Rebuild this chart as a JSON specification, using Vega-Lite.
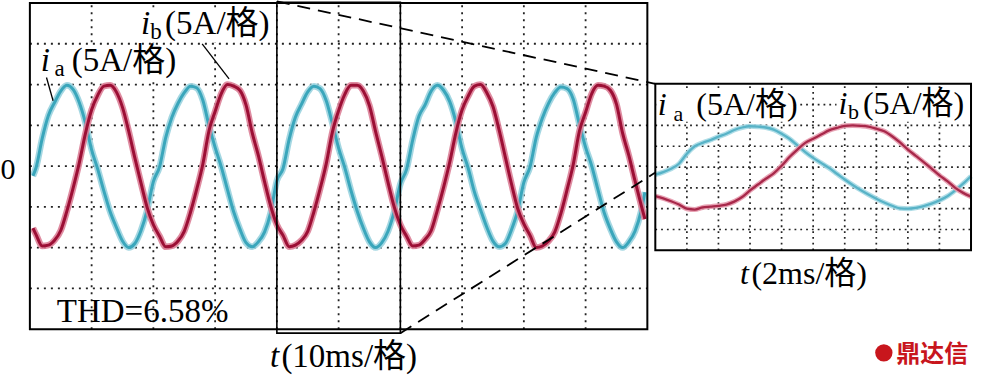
{
"$schema": "https://vega.github.io/schema/vega-lite/v6.json",
"width": 981, "height": 381,
"autosize": {"type": "fit", "contains": "padding"},
"padding": 0,
"background": "white",
"config": {"view": {"stroke": null}},
"datasets": {
"mainWave": [
{"s":"ia","t":0.5,"i":-1.2},{"s":"ia","t":1,"i":-0.2},{"s":"ia","t":2,"i":3.4},{"s":"ia","t":3,"i":6.2},{"s":"ia","t":4,"i":7.8},{"s":"ia","t":5,"i":9.2},{"s":"ia","t":6,"i":9.9},{"s":"ia","t":7,"i":9.4},{"s":"ia","t":8,"i":7.8},{"s":"ia","t":9,"i":5.3},{"s":"ia","t":10,"i":2.0},
{"s":"ia","t":11,"i":-0.4},{"s":"ia","t":12,"i":-3.1},{"s":"ia","t":13,"i":-5.6},{"s":"ia","t":14,"i":-7.5},{"s":"ia","t":15,"i":-9.2},{"s":"ia","t":16,"i":-10.0},{"s":"ia","t":17,"i":-9.5},{"s":"ia","t":18,"i":-7.9},{"s":"ia","t":19,"i":-5.4},{"s":"ia","t":20,"i":-1.9},
{"s":"ia","t":21,"i":-0.1},{"s":"ia","t":22,"i":3.5},{"s":"ia","t":23,"i":6.0},{"s":"ia","t":24,"i":7.7},{"s":"ia","t":25,"i":9.0},{"s":"ia","t":26,"i":9.8},{"s":"ia","t":27,"i":9.6},{"s":"ia","t":28,"i":8.1},{"s":"ia","t":29,"i":5.0},{"s":"ia","t":30,"i":2.3},
{"s":"ia","t":31,"i":-0.1},{"s":"ia","t":32,"i":-2.9},{"s":"ia","t":33,"i":-5.6},{"s":"ia","t":34,"i":-7.7},{"s":"ia","t":35,"i":-9.4},{"s":"ia","t":36,"i":-9.9},{"s":"ia","t":37,"i":-9.3},{"s":"ia","t":38,"i":-8.1},{"s":"ia","t":39,"i":-5.7},{"s":"ia","t":40,"i":-1.8},
{"s":"ia","t":41,"i":-0.3},{"s":"ia","t":42,"i":3.3},{"s":"ia","t":43,"i":6.0},{"s":"ia","t":44,"i":7.6},{"s":"ia","t":45,"i":9.1},{"s":"ia","t":46,"i":9.8},{"s":"ia","t":47,"i":9.5},{"s":"ia","t":48,"i":8.0},{"s":"ia","t":49,"i":5.2},{"s":"ia","t":50,"i":2.2},
{"s":"ia","t":51,"i":-0.2},{"s":"ia","t":52,"i":-3.0},{"s":"ia","t":53,"i":-5.5},{"s":"ia","t":54,"i":-7.6},{"s":"ia","t":55,"i":-9.3},{"s":"ia","t":56,"i":-10.0},{"s":"ia","t":57,"i":-9.4},{"s":"ia","t":58,"i":-8.0},{"s":"ia","t":59,"i":-5.6},{"s":"ia","t":60,"i":-2.2},
{"s":"ia","t":61,"i":-0.4},{"s":"ia","t":62,"i":3.2},{"s":"ia","t":63,"i":6.1},{"s":"ia","t":64,"i":7.5},{"s":"ia","t":65,"i":9.2},{"s":"ia","t":66,"i":9.9},{"s":"ia","t":67,"i":9.3},{"s":"ia","t":68,"i":7.9},{"s":"ia","t":69,"i":5.4},{"s":"ia","t":70,"i":2.1},
{"s":"ia","t":71,"i":-0.3},{"s":"ia","t":72,"i":-3.2},{"s":"ia","t":73,"i":-5.4},{"s":"ia","t":74,"i":-7.5},{"s":"ia","t":75,"i":-9.2},{"s":"ia","t":76,"i":-9.9},{"s":"ia","t":77,"i":-9.5},{"s":"ia","t":78,"i":-7.8},{"s":"ia","t":79,"i":-5.5},{"s":"ia","t":80,"i":-2.0},
{"s":"ia","t":81,"i":-0.1},{"s":"ia","t":82,"i":3.5},{"s":"ia","t":83,"i":5.9},{"s":"ia","t":84,"i":7.7},{"s":"ia","t":85,"i":9.0},{"s":"ia","t":86,"i":9.7},{"s":"ia","t":87,"i":9.5},{"s":"ia","t":88,"i":8.2},{"s":"ia","t":89,"i":5.1},{"s":"ia","t":90,"i":2.3},
{"s":"ia","t":91,"i":0.0},{"s":"ia","t":92,"i":-2.9},{"s":"ia","t":93,"i":-5.7},{"s":"ia","t":94,"i":-7.7},{"s":"ia","t":95,"i":-9.3},{"s":"ia","t":96,"i":-10.0},{"s":"ia","t":97,"i":-9.3},{"s":"ia","t":98,"i":-8.0},{"s":"ia","t":99,"i":-5.5},{"s":"ia","t":99.6,"i":-3.2},
{"s":"ib","t":0.5,"i":-7.6},{"s":"ib","t":1,"i":-8.4},{"s":"ib","t":2,"i":-9.8},{"s":"ib","t":3,"i":-9.7},{"s":"ib","t":4,"i":-9.1},{"s":"ib","t":5,"i":-7.9},{"s":"ib","t":6,"i":-5.5},{"s":"ib","t":7,"i":-2.7},{"s":"ib","t":8,"i":0.4},{"s":"ib","t":9,"i":4.0},{"s":"ib","t":10,"i":6.9},
{"s":"ib","t":11,"i":8.7},{"s":"ib","t":12,"i":9.8},{"s":"ib","t":13,"i":9.9},{"s":"ib","t":14,"i":9.1},{"s":"ib","t":15,"i":7.2},{"s":"ib","t":16,"i":4.3},{"s":"ib","t":17,"i":1.0},{"s":"ib","t":18,"i":-2.1},{"s":"ib","t":19,"i":-5.1},{"s":"ib","t":20,"i":-7.2},
{"s":"ib","t":21,"i":-8.6},{"s":"ib","t":22,"i":-9.9},{"s":"ib","t":23,"i":-9.8},{"s":"ib","t":24,"i":-9.2},{"s":"ib","t":25,"i":-8.0},{"s":"ib","t":26,"i":-5.7},{"s":"ib","t":27,"i":-2.9},{"s":"ib","t":28,"i":0.2},{"s":"ib","t":29,"i":4.3},{"s":"ib","t":30,"i":6.7},
{"s":"ib","t":31,"i":8.9},{"s":"ib","t":32,"i":10.0},{"s":"ib","t":33,"i":9.8},{"s":"ib","t":34,"i":9.3},{"s":"ib","t":35,"i":7.5},{"s":"ib","t":36,"i":4.1},{"s":"ib","t":37,"i":1.3},{"s":"ib","t":38,"i":-1.9},{"s":"ib","t":39,"i":-4.9},{"s":"ib","t":40,"i":-7.2},
{"s":"ib","t":41,"i":-8.5},{"s":"ib","t":42,"i":-9.9},{"s":"ib","t":43,"i":-9.7},{"s":"ib","t":44,"i":-9.1},{"s":"ib","t":45,"i":-8.0},{"s":"ib","t":46,"i":-5.6},{"s":"ib","t":47,"i":-2.8},{"s":"ib","t":48,"i":0.3},{"s":"ib","t":49,"i":4.2},{"s":"ib","t":50,"i":6.8},
{"s":"ib","t":51,"i":8.8},{"s":"ib","t":52,"i":9.9},{"s":"ib","t":53,"i":9.9},{"s":"ib","t":54,"i":9.2},{"s":"ib","t":55,"i":7.4},{"s":"ib","t":56,"i":4.2},{"s":"ib","t":57,"i":1.2},{"s":"ib","t":58,"i":-2.0},{"s":"ib","t":59,"i":-5.0},{"s":"ib","t":60,"i":-7.2},
{"s":"ib","t":61,"i":-8.6},{"s":"ib","t":62,"i":-9.8},{"s":"ib","t":63,"i":-9.7},{"s":"ib","t":64,"i":-9.0},{"s":"ib","t":65,"i":-7.9},{"s":"ib","t":66,"i":-5.4},{"s":"ib","t":67,"i":-2.6},{"s":"ib","t":68,"i":0.5},{"s":"ib","t":69,"i":4.1},{"s":"ib","t":70,"i":6.9},
{"s":"ib","t":71,"i":8.6},{"s":"ib","t":72,"i":9.8},{"s":"ib","t":73,"i":10.0},{"s":"ib","t":74,"i":9.0},{"s":"ib","t":75,"i":7.3},{"s":"ib","t":76,"i":4.4},{"s":"ib","t":77,"i":1.1},{"s":"ib","t":78,"i":-2.2},{"s":"ib","t":79,"i":-5.2},{"s":"ib","t":80,"i":-7.1},
{"s":"ib","t":81,"i":-8.5},{"s":"ib","t":82,"i":-10.0},{"s":"ib","t":83,"i":-9.8},{"s":"ib","t":84,"i":-9.2},{"s":"ib","t":85,"i":-8.1},{"s":"ib","t":86,"i":-5.8},{"s":"ib","t":87,"i":-2.9},{"s":"ib","t":88,"i":0.2},{"s":"ib","t":89,"i":4.3},{"s":"ib","t":90,"i":6.6},
{"s":"ib","t":91,"i":8.9},{"s":"ib","t":92,"i":9.9},{"s":"ib","t":93,"i":9.8},{"s":"ib","t":94,"i":9.3},{"s":"ib","t":95,"i":7.6},{"s":"ib","t":96,"i":4.0},{"s":"ib","t":97,"i":1.3},{"s":"ib","t":98,"i":-1.8},{"s":"ib","t":99,"i":-4.8},{"s":"ib","t":99.6,"i":-6.5}
],
"insetWave": [
{"s":"ia","t":0,"i":-1.8},{"s":"ia","t":0.5,"i":-1.2},{"s":"ia","t":1,"i":-0.4},{"s":"ia","t":1.5,"i":0.8},{"s":"ia","t":2,"i":3.2},{"s":"ia","t":2.5,"i":5.0},{"s":"ia","t":3,"i":5.8},{"s":"ia","t":3.5,"i":6.5},{"s":"ia","t":4,"i":7.3},{"s":"ia","t":4.5,"i":8.0},
{"s":"ia","t":5,"i":8.9},{"s":"ia","t":5.5,"i":9.5},{"s":"ia","t":6,"i":9.8},{"s":"ia","t":6.5,"i":9.7},{"s":"ia","t":7,"i":9.5},{"s":"ia","t":7.5,"i":9.0},{"s":"ia","t":8,"i":8.0},{"s":"ia","t":8.5,"i":6.8},{"s":"ia","t":9,"i":5.2},{"s":"ia","t":9.5,"i":3.6},
{"s":"ia","t":10,"i":2.2},{"s":"ia","t":10.5,"i":1.0},{"s":"ia","t":11,"i":-0.2},{"s":"ia","t":11.5,"i":-1.6},{"s":"ia","t":12,"i":-3.0},{"s":"ia","t":12.5,"i":-4.3},{"s":"ia","t":13,"i":-5.5},{"s":"ia","t":13.5,"i":-6.6},{"s":"ia","t":14,"i":-7.6},{"s":"ia","t":14.5,"i":-8.5},
{"s":"ia","t":15,"i":-9.3},{"s":"ia","t":15.5,"i":-9.9},{"s":"ia","t":16,"i":-10.0},{"s":"ia","t":16.5,"i":-9.8},{"s":"ia","t":17,"i":-9.4},{"s":"ia","t":17.5,"i":-8.8},{"s":"ia","t":18,"i":-8.0},{"s":"ia","t":18.5,"i":-7.0},{"s":"ia","t":19,"i":-5.6},{"s":"ia","t":19.5,"i":-4.0},{"s":"ia","t":20,"i":-2.2},
{"s":"ib","t":0,"i":-7.0},{"s":"ib","t":0.5,"i":-7.5},{"s":"ib","t":1,"i":-8.2},{"s":"ib","t":1.5,"i":-9.0},{"s":"ib","t":2,"i":-10.0},{"s":"ib","t":2.5,"i":-10.2},{"s":"ib","t":3,"i":-9.7},{"s":"ib","t":3.5,"i":-9.5},{"s":"ib","t":4,"i":-9.3},{"s":"ib","t":4.5,"i":-9.0},
{"s":"ib","t":5,"i":-8.3},{"s":"ib","t":5.5,"i":-7.2},{"s":"ib","t":6,"i":-5.6},{"s":"ib","t":6.5,"i":-4.2},{"s":"ib","t":7,"i":-2.8},{"s":"ib","t":7.5,"i":-1.5},{"s":"ib","t":8,"i":0.3},{"s":"ib","t":8.5,"i":2.4},{"s":"ib","t":9,"i":4.2},{"s":"ib","t":9.5,"i":5.8},
{"s":"ib","t":10,"i":6.8},{"s":"ib","t":10.5,"i":7.8},{"s":"ib","t":11,"i":8.8},{"s":"ib","t":11.5,"i":9.4},{"s":"ib","t":12,"i":9.9},{"s":"ib","t":12.5,"i":10.0},{"s":"ib","t":13,"i":9.9},{"s":"ib","t":13.5,"i":9.7},{"s":"ib","t":14,"i":9.2},{"s":"ib","t":14.5,"i":8.6},
{"s":"ib","t":15,"i":7.4},{"s":"ib","t":15.5,"i":5.9},{"s":"ib","t":16,"i":4.2},{"s":"ib","t":16.5,"i":2.7},{"s":"ib","t":17,"i":1.2},{"s":"ib","t":17.5,"i":-0.4},{"s":"ib","t":18,"i":-2.0},{"s":"ib","t":18.5,"i":-3.4},{"s":"ib","t":19,"i":-5.0},{"s":"ib","t":19.5,"i":-6.2},{"s":"ib","t":20,"i":-7.1}
],
"mainText": [
{"t":1.77,"i":11.68,"txt":"i","k":"it"},
{"t":4.0,"i":11.07,"txt":"a","k":"sub"},
{"t":6.77,"i":11.68,"txt":"(5A/格)","k":"rm"},
{"t":17.98,"i":16.21,"txt":"i","k":"it"},
{"t":19.5,"i":15.6,"txt":"b","k":"sub"},
{"t":21.9,"i":16.21,"txt":"(5A/格)","k":"rm"},
{"t":-4.76,"i":-1.59,"txt":"0","k":"num"},
{"t":4.35,"i":-19.14,"txt":"THD=6.58%","k":"rm"},
{"t":38.87,"i":-24.65,"txt":"t","k":"it"},
{"t":40.73,"i":-24.65,"txt":"(10ms/格)","k":"rm"},
{"t":140.3,"i":-24.0,"txt":"鼎达信","k":"wm"}
],
"insetText": [
{"t":0.16,"i":12.57,"txt":"i","k":"it"},
{"t":1.15,"i":11.14,"txt":"a","k":"sub"},
{"t":2.6,"i":12.57,"txt":"(5A/格)","k":"rm"},
{"t":11.61,"i":12.81,"txt":"i","k":"it"},
{"t":12.2,"i":11.62,"txt":"b","k":"sub"},
{"t":13.15,"i":12.81,"txt":"(5A/格)","k":"rm"},
{"t":5.36,"i":-28.14,"txt":"t","k":"it"},
{"t":6.09,"i":-28.14,"txt":"(2ms/格)","k":"rm"}
]
},
"layer": [
{
"layer": [
{"data": {"values": [{"t":10},{"t":20},{"t":30},{"t":40},{"t":50},{"t":60},{"t":70},{"t":80},{"t":90}]},
 "mark": {"type": "rule", "stroke": "#222222", "strokeWidth": 1.8, "strokeDash": [2, 5]},
 "encoding": {
  "x": {"field": "t", "type": "quantitative", "scale": {"domain": [-4.839, 153.387], "nice": false, "zero": false}, "axis": null},
  "y": {"datum": -20, "type": "quantitative", "scale": {"domain": [-26.36, 20.245], "nice": false, "zero": false}, "axis": null},
  "y2": {"datum": 20}}},
{"data": {"values": [{"i":-15},{"i":-10},{"i":-5},{"i":0},{"i":5},{"i":10},{"i":15}]},
 "mark": {"type": "rule", "stroke": "#222222", "strokeWidth": 1.8, "strokeDash": [2, 5]},
 "encoding": {
  "x": {"datum": 0, "type": "quantitative", "scale": {"domain": [-4.839, 153.387], "nice": false, "zero": false}, "axis": null},
  "x2": {"datum": 100},
  "y": {"field": "i", "type": "quantitative", "scale": {"domain": [-26.36, 20.245], "nice": false, "zero": false}, "axis": null}}},
{"data": {"values": [{"t":1.61,"t2":23.39,"i":14.74,"i2":10.58},{"t":17.58,"t2":39.35,"i":19.27,"i2":15.23}]},
 "mark": {"type": "rect", "fill": "white"},
 "encoding": {
  "x": {"field": "t", "type": "quantitative", "scale": {"domain": [-4.839, 153.387], "nice": false, "zero": false}, "axis": null},
  "x2": {"field": "t2"},
  "y": {"field": "i", "type": "quantitative", "scale": {"domain": [-26.36, 20.245], "nice": false, "zero": false}, "axis": null},
  "y2": {"field": "i2"}}},
{"data": {"name": "mainWave"}, "transform": [{"filter": "datum.s == 'ia'"}],
 "mark": {"type": "line", "stroke": "#9ad3df", "strokeWidth": 6.5, "interpolate": "monotone", "opacity": 0.9},
 "encoding": {
  "x": {"field": "t", "type": "quantitative", "scale": {"domain": [-4.839, 153.387], "nice": false, "zero": false}, "axis": null},
  "y": {"field": "i", "type": "quantitative", "scale": {"domain": [-26.36, 20.245], "nice": false, "zero": false}, "axis": null}}},
{"data": {"name": "mainWave"}, "transform": [{"filter": "datum.s == 'ia'"}],
 "mark": {"type": "line", "stroke": "#3aa6bb", "strokeWidth": 3, "interpolate": "monotone"},
 "encoding": {
  "x": {"field": "t", "type": "quantitative", "scale": {"domain": [-4.839, 153.387], "nice": false, "zero": false}, "axis": null},
  "y": {"field": "i", "type": "quantitative", "scale": {"domain": [-26.36, 20.245], "nice": false, "zero": false}, "axis": null}}},
{"data": {"name": "mainWave"}, "transform": [{"filter": "datum.s == 'ib'"}],
 "mark": {"type": "line", "stroke": "#dc7f97", "strokeWidth": 6.5, "interpolate": "monotone", "opacity": 0.9},
 "encoding": {
  "x": {"field": "t", "type": "quantitative", "scale": {"domain": [-4.839, 153.387], "nice": false, "zero": false}, "axis": null},
  "y": {"field": "i", "type": "quantitative", "scale": {"domain": [-26.36, 20.245], "nice": false, "zero": false}, "axis": null}}},
{"data": {"name": "mainWave"}, "transform": [{"filter": "datum.s == 'ib'"}],
 "mark": {"type": "line", "stroke": "#9c0f35", "strokeWidth": 3, "interpolate": "monotone"},
 "encoding": {
  "x": {"field": "t", "type": "quantitative", "scale": {"domain": [-4.839, 153.387], "nice": false, "zero": false}, "axis": null},
  "y": {"field": "i", "type": "quantitative", "scale": {"domain": [-26.36, 20.245], "nice": false, "zero": false}, "axis": null}}},
{"data": {"values": [{"t":2.69,"i":10.86,"t2":3.76,"i2":8.01},{"t":27.9,"i":14.98,"t2":32.26,"i2":10.7}]},
 "mark": {"type": "rule", "stroke": "black", "strokeWidth": 1.3},
 "encoding": {
  "x": {"field": "t", "type": "quantitative", "scale": {"domain": [-4.839, 153.387], "nice": false, "zero": false}, "axis": null},
  "x2": {"field": "t2"},
  "y": {"field": "i", "type": "quantitative", "scale": {"domain": [-26.36, 20.245], "nice": false, "zero": false}, "axis": null},
  "y2": {"field": "i2"}}},
{"data": {"values": [{"t":0,"t2":100,"i":-20,"i2":20}]},
 "mark": {"type": "rect", "fill": "transparent", "stroke": "black", "strokeWidth": 2},
 "encoding": {
  "x": {"field": "t", "type": "quantitative", "scale": {"domain": [-4.839, 153.387], "nice": false, "zero": false}, "axis": null},
  "x2": {"field": "t2"},
  "y": {"field": "i", "type": "quantitative", "scale": {"domain": [-26.36, 20.245], "nice": false, "zero": false}, "axis": null},
  "y2": {"field": "i2"}}},
{"data": {"values": [{"t":40,"t2":60,"i":20.1,"i2":-20.49}]},
 "mark": {"type": "rect", "fill": "transparent", "stroke": "black", "strokeWidth": 1.6},
 "encoding": {
  "x": {"field": "t", "type": "quantitative", "scale": {"domain": [-4.839, 153.387], "nice": false, "zero": false}, "axis": null},
  "x2": {"field": "t2"},
  "y": {"field": "i", "type": "quantitative", "scale": {"domain": [-26.36, 20.245], "nice": false, "zero": false}, "axis": null},
  "y2": {"field": "i2"}}},
{"data": {"values": [{"t":40,"i":20.2,"t2":101.29,"i2":10.09},{"t":60,"i":-20.49,"t2":101.29,"i2":-0.8}]},
 "mark": {"type": "rule", "stroke": "black", "strokeWidth": 1.8, "strokeDash": [13, 8]},
 "encoding": {
  "x": {"field": "t", "type": "quantitative", "scale": {"domain": [-4.839, 153.387], "nice": false, "zero": false}, "axis": null},
  "x2": {"field": "t2"},
  "y": {"field": "i", "type": "quantitative", "scale": {"domain": [-26.36, 20.245], "nice": false, "zero": false}, "axis": null},
  "y2": {"field": "i2"}}},
{"data": {"name": "mainText"}, "transform": [{"filter": "datum.k == 'it'"}],
 "mark": {"type": "text", "align": "left", "baseline": "alphabetic", "font": "Liberation Serif, Noto Sans CJK SC", "fontStyle": "italic", "fontSize": 33, "color": "black"},
 "encoding": {
  "x": {"field": "t", "type": "quantitative", "scale": {"domain": [-4.839, 153.387], "nice": false, "zero": false}, "axis": null},
  "y": {"field": "i", "type": "quantitative", "scale": {"domain": [-26.36, 20.245], "nice": false, "zero": false}, "axis": null},
  "text": {"field": "txt"}}},
{"data": {"name": "mainText"}, "transform": [{"filter": "datum.k == 'sub'"}],
 "mark": {"type": "text", "align": "left", "baseline": "alphabetic", "font": "Liberation Serif, Noto Sans CJK SC", "fontSize": 23, "color": "black"},
 "encoding": {
  "x": {"field": "t", "type": "quantitative", "scale": {"domain": [-4.839, 153.387], "nice": false, "zero": false}, "axis": null},
  "y": {"field": "i", "type": "quantitative", "scale": {"domain": [-26.36, 20.245], "nice": false, "zero": false}, "axis": null},
  "text": {"field": "txt"}}},
{"data": {"name": "mainText"}, "transform": [{"filter": "datum.k == 'rm'"}],
 "mark": {"type": "text", "align": "left", "baseline": "alphabetic", "font": "Liberation Serif, Noto Sans CJK SC", "fontSize": 33, "color": "black"},
 "encoding": {
  "x": {"field": "t", "type": "quantitative", "scale": {"domain": [-4.839, 153.387], "nice": false, "zero": false}, "axis": null},
  "y": {"field": "i", "type": "quantitative", "scale": {"domain": [-26.36, 20.245], "nice": false, "zero": false}, "axis": null},
  "text": {"field": "txt"}}},
{"data": {"name": "mainText"}, "transform": [{"filter": "datum.k == 'num'"}],
 "mark": {"type": "text", "align": "left", "baseline": "alphabetic", "font": "Liberation Serif", "fontSize": 30, "color": "black"},
 "encoding": {
  "x": {"field": "t", "type": "quantitative", "scale": {"domain": [-4.839, 153.387], "nice": false, "zero": false}, "axis": null},
  "y": {"field": "i", "type": "quantitative", "scale": {"domain": [-26.36, 20.245], "nice": false, "zero": false}, "axis": null},
  "text": {"field": "txt"}}},
{"data": {"name": "mainText"}, "transform": [{"filter": "datum.k == 'wm'"}],
 "mark": {"type": "text", "align": "left", "baseline": "alphabetic", "font": "Noto Sans CJK SC", "fontWeight": "bold", "fontSize": 24, "color": "#c8161d"},
 "encoding": {
  "x": {"field": "t", "type": "quantitative", "scale": {"domain": [-4.839, 153.387], "nice": false, "zero": false}, "axis": null},
  "y": {"field": "i", "type": "quantitative", "scale": {"domain": [-26.36, 20.245], "nice": false, "zero": false}, "axis": null},
  "text": {"field": "txt"}}},
{"data": {"values": [{"t":138.3,"i":-22.9}]},
 "mark": {"type": "point", "shape": "circle", "filled": true, "color": "#c8161d", "size": 300, "opacity": 1},
 "encoding": {
  "x": {"field": "t", "type": "quantitative", "scale": {"domain": [-4.839, 153.387], "nice": false, "zero": false}, "axis": null},
  "y": {"field": "i", "type": "quantitative", "scale": {"domain": [-26.36, 20.245], "nice": false, "zero": false}, "axis": null}}}
]
},
{
"layer": [
{"data": {"values": [{"t":2},{"t":4},{"t":6},{"t":8},{"t":10},{"t":12},{"t":14},{"t":16},{"t":18}]},
 "mark": {"type": "rule", "stroke": "#222222", "strokeWidth": 1.7, "strokeDash": [1.8, 4]},
 "encoding": {
  "x": {"field": "t", "type": "quantitative", "scale": {"domain": [-41.514, 20.379], "nice": false, "zero": false}, "axis": null},
  "y": {"datum": -20, "type": "quantitative", "scale": {"domain": [-51.38, 39.88], "nice": false, "zero": false}, "axis": null},
  "y2": {"datum": 20}}},
{"data": {"values": [{"i":-15},{"i":-10},{"i":-5},{"i":0},{"i":5},{"i":10},{"i":15}]},
 "mark": {"type": "rule", "stroke": "#222222", "strokeWidth": 1.7, "strokeDash": [1.8, 4]},
 "encoding": {
  "x": {"datum": 0, "type": "quantitative", "scale": {"domain": [-41.514, 20.379], "nice": false, "zero": false}, "axis": null},
  "x2": {"datum": 20},
  "y": {"field": "i", "type": "quantitative", "scale": {"domain": [-51.38, 39.88], "nice": false, "zero": false}, "axis": null}}},
{"data": {"values": [{"t":0.06,"t2":8.96,"i":18.8,"i2":10.9},{"t":11.48,"t2":19.95,"i":18.8,"i2":10.9}]},
 "mark": {"type": "rect", "fill": "white"},
 "encoding": {
  "x": {"field": "t", "type": "quantitative", "scale": {"domain": [-41.514, 20.379], "nice": false, "zero": false}, "axis": null},
  "x2": {"field": "t2"},
  "y": {"field": "i", "type": "quantitative", "scale": {"domain": [-51.38, 39.88], "nice": false, "zero": false}, "axis": null},
  "y2": {"field": "i2"}}},
{"data": {"name": "insetWave"}, "transform": [{"filter": "datum.s == 'ia'"}],
 "mark": {"type": "line", "stroke": "#a6d9e4", "strokeWidth": 5, "interpolate": "monotone", "opacity": 0.9},
 "encoding": {
  "x": {"field": "t", "type": "quantitative", "scale": {"domain": [-41.514, 20.379], "nice": false, "zero": false}, "axis": null},
  "y": {"field": "i", "type": "quantitative", "scale": {"domain": [-51.38, 39.88], "nice": false, "zero": false}, "axis": null}}},
{"data": {"name": "insetWave"}, "transform": [{"filter": "datum.s == 'ia'"}],
 "mark": {"type": "line", "stroke": "#58b3c7", "strokeWidth": 2.3, "interpolate": "monotone"},
 "encoding": {
  "x": {"field": "t", "type": "quantitative", "scale": {"domain": [-41.514, 20.379], "nice": false, "zero": false}, "axis": null},
  "y": {"field": "i", "type": "quantitative", "scale": {"domain": [-51.38, 39.88], "nice": false, "zero": false}, "axis": null}}},
{"data": {"name": "insetWave"}, "transform": [{"filter": "datum.s == 'ib'"}],
 "mark": {"type": "line", "stroke": "#e59aad", "strokeWidth": 5, "interpolate": "monotone", "opacity": 0.9},
 "encoding": {
  "x": {"field": "t", "type": "quantitative", "scale": {"domain": [-41.514, 20.379], "nice": false, "zero": false}, "axis": null},
  "y": {"field": "i", "type": "quantitative", "scale": {"domain": [-51.38, 39.88], "nice": false, "zero": false}, "axis": null}}},
{"data": {"name": "insetWave"}, "transform": [{"filter": "datum.s == 'ib'"}],
 "mark": {"type": "line", "stroke": "#a8284a", "strokeWidth": 2.3, "interpolate": "monotone"},
 "encoding": {
  "x": {"field": "t", "type": "quantitative", "scale": {"domain": [-41.514, 20.379], "nice": false, "zero": false}, "axis": null},
  "y": {"field": "i", "type": "quantitative", "scale": {"domain": [-51.38, 39.88], "nice": false, "zero": false}, "axis": null}}},
{"data": {"values": [{"t":0,"t2":20,"i":-20,"i2":20}]},
 "mark": {"type": "rect", "fill": "transparent", "stroke": "black", "strokeWidth": 2},
 "encoding": {
  "x": {"field": "t", "type": "quantitative", "scale": {"domain": [-41.514, 20.379], "nice": false, "zero": false}, "axis": null},
  "x2": {"field": "t2"},
  "y": {"field": "i", "type": "quantitative", "scale": {"domain": [-51.38, 39.88], "nice": false, "zero": false}, "axis": null},
  "y2": {"field": "i2"}}},
{"data": {"name": "insetText"}, "transform": [{"filter": "datum.k == 'it'"}],
 "mark": {"type": "text", "align": "left", "baseline": "alphabetic", "font": "Liberation Serif, Noto Sans CJK SC", "fontStyle": "italic", "fontSize": 32, "color": "black"},
 "encoding": {
  "x": {"field": "t", "type": "quantitative", "scale": {"domain": [-41.514, 20.379], "nice": false, "zero": false}, "axis": null},
  "y": {"field": "i", "type": "quantitative", "scale": {"domain": [-51.38, 39.88], "nice": false, "zero": false}, "axis": null},
  "text": {"field": "txt"}}},
{"data": {"name": "insetText"}, "transform": [{"filter": "datum.k == 'sub'"}],
 "mark": {"type": "text", "align": "left", "baseline": "alphabetic", "font": "Liberation Serif, Noto Sans CJK SC", "fontSize": 22, "color": "black"},
 "encoding": {
  "x": {"field": "t", "type": "quantitative", "scale": {"domain": [-41.514, 20.379], "nice": false, "zero": false}, "axis": null},
  "y": {"field": "i", "type": "quantitative", "scale": {"domain": [-51.38, 39.88], "nice": false, "zero": false}, "axis": null},
  "text": {"field": "txt"}}},
{"data": {"name": "insetText"}, "transform": [{"filter": "datum.k == 'rm'"}],
 "mark": {"type": "text", "align": "left", "baseline": "alphabetic", "font": "Liberation Serif, Noto Sans CJK SC", "fontSize": 32, "color": "black"},
 "encoding": {
  "x": {"field": "t", "type": "quantitative", "scale": {"domain": [-41.514, 20.379], "nice": false, "zero": false}, "axis": null},
  "y": {"field": "i", "type": "quantitative", "scale": {"domain": [-51.38, 39.88], "nice": false, "zero": false}, "axis": null},
  "text": {"field": "txt"}}}
]
}
],
"resolve": {"scale": {"x": "independent", "y": "independent"}}
}
